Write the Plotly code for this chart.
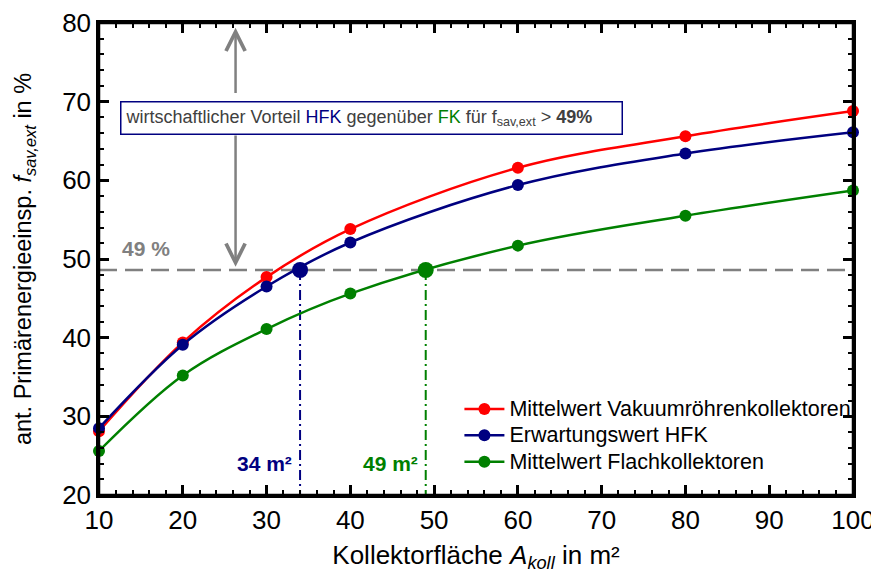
import plotly.graph_objects as go

# Data
area = [10, 20, 30, 40, 60, 80, 100]
vakuum = [28.1, 39.4, 47.7, 53.8, 61.6, 65.6, 68.8]
hfk = [28.5, 39.1, 46.5, 52.1, 59.4, 63.4, 66.1]
flach = [25.6, 35.2, 41.1, 45.6, 51.7, 55.5, 58.7]

series_names = ["Mittelwert Vakuumröhrenkollektoren", "Erwartungswert HFK",
                "Mittelwert Flachkollektoren"]

threshold = 48.6
cross_hfk = 34
cross_fk = 49
arrow_x = 26.3

RED = "#ff0000"
NAVY = "#000080"
GREEN = "#008000"
GRAY = "#808080"
FONT = "Liberation Sans, Arial, sans-serif"

fig = go.Figure()

# threshold line
fig.add_trace(go.Scatter(x=[10, 100], y=[threshold, threshold], mode="lines",
                         line=dict(color=GRAY, width=2.5, dash="18px,8px"),
                         showlegend=False, hoverinfo="skip"))
# vertical drop lines
fig.add_trace(go.Scatter(x=[cross_hfk, cross_hfk], y=[threshold, 20], mode="lines",
                         line=dict(color=NAVY, width=2, dash="10px,4px,2px,4px"),
                         showlegend=False, hoverinfo="skip"))
fig.add_trace(go.Scatter(x=[cross_fk, cross_fk], y=[threshold, 20], mode="lines",
                         line=dict(color=GREEN, width=2, dash="10px,4px,2px,4px"),
                         showlegend=False, hoverinfo="skip"))

for vals, nm, col in zip([vakuum, hfk, flach], series_names, [RED, NAVY, GREEN]):
    fig.add_trace(go.Scatter(x=area, y=vals, mode="lines+markers",
                             name="<span style='font-size:21.5px'>" + nm + "</span>",
                             line=dict(color=col, width=2.5, shape="spline"),
                             marker=dict(color=col, size=12), cliponaxis=False))

# crossing markers
fig.add_trace(go.Scatter(x=[cross_hfk], y=[threshold], mode="markers",
                         marker=dict(color=NAVY, size=16), showlegend=False))
fig.add_trace(go.Scatter(x=[cross_fk], y=[threshold], mode="markers",
                         marker=dict(color=GREEN, size=16), showlegend=False))

# arrows
fig.add_annotation(x=arrow_x, y=79.4, ax=arrow_x, ay=70.9, xref="x", yref="y",
                   axref="x", ayref="y", showarrow=True, arrowhead=5,
                   arrowsize=1.5, arrowwidth=2.5, arrowcolor=GRAY, text="")
fig.add_annotation(x=arrow_x, y=threshold + 0.4, ax=arrow_x, ay=65.9, xref="x", yref="y",
                   axref="x", ayref="y", showarrow=True, arrowhead=5,
                   arrowsize=1.5, arrowwidth=2.5, arrowcolor=GRAY, text="")

# box text
fig.add_annotation(
    x=12.45, y=67.9, xref="x", yref="y", showarrow=False, xanchor="left",
    text=("wirtschaftlicher Vorteil <span style='color:#000080'>HFK</span> gegenüber "
          "<span style='color:#008000'>FK</span> für f<sub>sav,ext</sub> &gt; <b>49%</b>     "),
    font=dict(family=FONT, size=18, color="#404040"),
    bgcolor="white", bordercolor=NAVY, borderwidth=1.5, borderpad=4)

fig.add_annotation(x=12.5, y=threshold + 1.0, xref="x", yref="y", showarrow=False,
                   text="<b>49 %</b>", xanchor="left", yanchor="bottom",
                   font=dict(family=FONT, size=21, color=GRAY))
fig.add_annotation(x=cross_hfk - 0.7, y=22.3, xref="x", yref="y", showarrow=False,
                   text="<b>34 m²</b>", xanchor="right", yanchor="bottom",
                   font=dict(family=FONT, size=21, color=NAVY))
fig.add_annotation(x=cross_fk - 0.7, y=22.3, xref="x", yref="y", showarrow=False,
                   text="<b>49 m²</b>", xanchor="right", yanchor="bottom",
                   font=dict(family=FONT, size=21, color=GREEN))

# plot frame
fig.add_shape(type="rect", xref="paper", yref="paper", x0=0, y0=0, x1=1, y1=1,
              line=dict(color="black", width=2.5), layer="above")

axis_common = dict(showgrid=False, zeroline=False, showline=True, linecolor="black",
                   linewidth=2.5, mirror="allticks", ticks="inside", ticklen=10,
                   tickwidth=2.5, tickcolor="black", automargin=False,
                   ticklabeloverflow="allow",
                   tickfont=dict(family=FONT, size=26, color="black"),
                   minor=dict(ticks="inside", ticklen=5, tickwidth=2, tickcolor="black", dtick=2))

fig.update_xaxes(range=[10, 100], dtick=10, tick0=10,
                 title=dict(text="Kollektorfläche <i>A</i><sub><i>koll</i></sub> in m²",
                            font=dict(family=FONT, size=26, color="black"), standoff=21),
                 **axis_common)
fig.update_yaxes(range=[20, 80], dtick=10, tick0=20,
                 title=dict(text="ant. Primärenergieeinsp. <i>f</i><sub><i>sav,ext</i></sub> in %",
                            font=dict(family=FONT, size=23.5, color="black"), standoff=24),
                 **axis_common)

fig.update_layout(
    width=871, height=565,
    margin=dict(l=91, r=26, t=15, b=78),
    paper_bgcolor="white", plot_bgcolor="white",
    font=dict(family=FONT, color="black"),
    legend=dict(x=0.478, y=0.221, xanchor="left", yanchor="top",
                font=dict(family=FONT, size=18, color="black"),
                bgcolor="rgba(0,0,0,0)", tracegroupgap=0, itemwidth=40),
)

fig.write_html("out.html")
